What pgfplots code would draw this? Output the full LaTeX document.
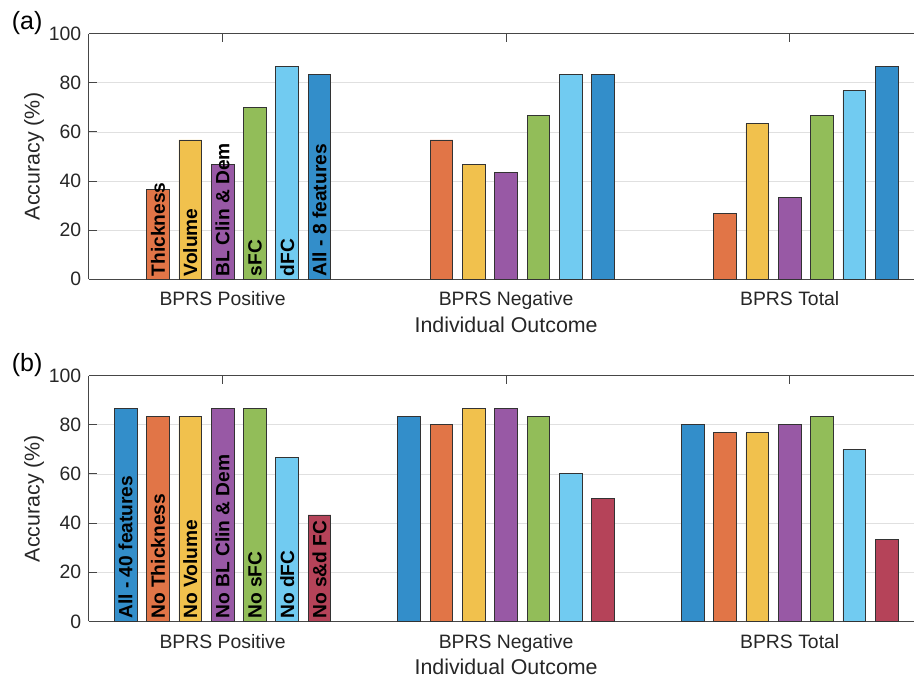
\documentclass[border=0pt]{standalone}
\usepackage{pgfplots}
\pgfplotsset{compat=1.18}
\usepackage{pgfplotstable}
\usepackage{fontspec}
\setmainfont{Liberation Sans}

\definecolor{cB}{RGB}{51,142,202}
\definecolor{cO}{RGB}{225,117,71}
\definecolor{cY}{RGB}{241,193,77}
\definecolor{cP}{RGB}{152,89,165}
\definecolor{cG}{RGB}{146,189,89}
\definecolor{cL}{RGB}{113,203,241}
\definecolor{cR}{RGB}{181,67,89}
\definecolor{axc}{RGB}{70,70,70}
\definecolor{txc}{RGB}{38,38,38}

\newcommand\tickfont{\fontsize{19.4pt}{23pt}\selectfont}
\newcommand\labfont{\fontsize{21.4pt}{25pt}\selectfont}
\newcommand\barfont{\fontsize{19.2pt}{23pt}\selectfont\bfseries}
\newcommand\panfont{\fontsize{25pt}{30pt}\selectfont}

% panel (a): group, Thickness, Volume, BL Clin & Dem, sFC, dFC, All - 8 features
\pgfplotstableread{
g th vo bl sf df al
1 36.7 56.7 46.7 70.0 86.7 83.3
2 56.7 46.7 43.3 66.7 83.3 83.3
3 26.7 63.3 33.3 66.7 76.7 86.7
}\tabA
% panel (b): group, All - 40, No Thickness, No Volume, No BL Clin & Dem, No sFC, No dFC, No s&d FC
\pgfplotstableread{
g al th vo bl sf df sd
1 86.7 83.3 83.3 86.7 86.7 66.7 43.3
2 83.3 80.0 86.7 86.7 83.3 60.0 50.0
3 80.0 76.7 76.7 80.0 83.3 70.0 33.3
}\tabB

\pgfplotsset{
  panel/.style={
    scale only axis, width=825.2pt, height=#1, anchor=south west,
    xmin=0.528, xmax=3.4372, ymin=0, ymax=100,
    axis y line*=left,
    y axis line style={-},
    xtick={1,2,3}, xticklabels={BPRS Positive,BPRS Negative,BPRS Total},
    ytick={0,20,40,60,80,100},
    xtick pos=both, ytick pos=left,
    tick align=inside, major tick length=8pt,
    ymajorgrids, grid style={black!12, line width=0.6pt},
    axis line style={axc, line width=0.8pt},
    major tick style={axc, line width=0.8pt},
    /pgf/number format/assume math mode=true,
    xticklabel style={anchor=base, yshift=-26.7pt, font=\tickfont, text=txc},
    yticklabel style={anchor=east, inner sep=0pt, xshift=-7.3pt, font=\tickfont, text=txc},
    xlabel={Individual Outcome}, ylabel={Accuracy (\%)},
    xlabel style={at={(axis cs:2,0)}, anchor=base, yshift=-53pt, font=\labfont, text=txc, inner sep=0pt},
    ylabel style={at={(axis description cs:-0.0664,0.5)}, anchor=center, font=\labfont, text=txc, inner sep=0pt},
  },
  br/.style={ybar, bar width=0.08, bar shift=#1*0.114, draw=black!80, line width=0.8pt},
}
\tikzset{barlab/.style={rotate=90, anchor=west, inner sep=0pt, font=\barfont, text=black}}

\begin{document}
\begin{tikzpicture}
\path (0,0) rectangle (914pt,678pt);

\begin{axis}[panel=245.6pt, at={(88.8pt,398.7pt)}]
\addplot[br=-2, fill=cO] table[x=g, y=th] {\tabA};
\addplot[br=-1, fill=cY] table[x=g, y=vo] {\tabA};
\addplot[br=0,  fill=cP] table[x=g, y=bl] {\tabA};
\addplot[br=1,  fill=cG] table[x=g, y=sf] {\tabA};
\addplot[br=2,  fill=cL] table[x=g, y=df] {\tabA};
\addplot[br=3,  fill=cB] table[x=g, y=al] {\tabA};
\node[barlab] at ([yshift=2.6pt]axis cs:0.772,0) {Thickness};
\node[barlab] at ([yshift=2.6pt]axis cs:0.886,0) {Volume};
\node[barlab] at ([yshift=2.6pt]axis cs:1.000,0) {BL Clin \& Dem};
\node[barlab] at ([yshift=2.6pt]axis cs:1.114,0) {sFC};
\node[barlab] at ([yshift=2.6pt]axis cs:1.228,0) {dFC};
\node[barlab] at ([yshift=2.6pt]axis cs:1.342,0) {All - 8 features};
\end{axis}

\begin{axis}[panel=246pt, at={(88.8pt,56.3pt)}]
\addplot[br=-3, fill=cB] table[x=g, y=al] {\tabB};
\addplot[br=-2, fill=cO] table[x=g, y=th] {\tabB};
\addplot[br=-1, fill=cY] table[x=g, y=vo] {\tabB};
\addplot[br=0,  fill=cP] table[x=g, y=bl] {\tabB};
\addplot[br=1,  fill=cG] table[x=g, y=sf] {\tabB};
\addplot[br=2,  fill=cL] table[x=g, y=df] {\tabB};
\addplot[br=3,  fill=cR] table[x=g, y=sd] {\tabB};
\node[barlab] at ([yshift=2.6pt]axis cs:0.658,0) {All - 40 features};
\node[barlab] at ([yshift=2.6pt]axis cs:0.772,0) {No Thickness};
\node[barlab] at ([yshift=2.6pt]axis cs:0.886,0) {No Volume};
\node[barlab] at ([yshift=2.6pt]axis cs:1.000,0) {No BL Clin \& Dem};
\node[barlab] at ([yshift=2.6pt]axis cs:1.114,0) {No sFC};
\node[barlab] at ([yshift=2.6pt]axis cs:1.228,0) {No dFC};
\node[barlab] at ([yshift=2.6pt]axis cs:1.342,0) {No s\&d FC};
\end{axis}

\node[anchor=base west, inner sep=0pt, font=\panfont, text=black] at (11.7pt,648pt) {(a)};
\node[anchor=base west, inner sep=0pt, font=\panfont, text=black] at (11.7pt,306pt) {(b)};
\end{tikzpicture}
\end{document}
